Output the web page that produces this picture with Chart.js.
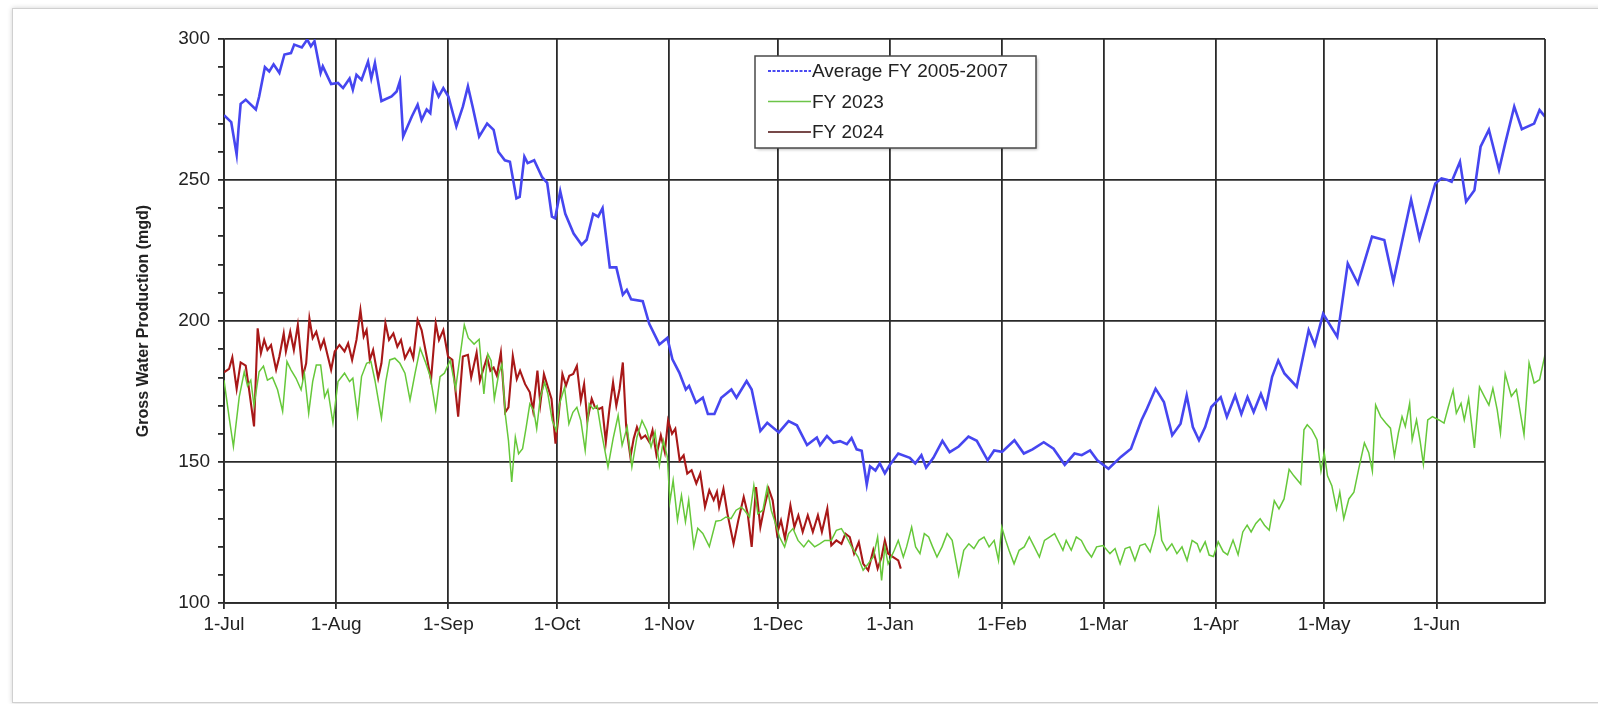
<!DOCTYPE html>
<html>
<head>
<meta charset="utf-8">
<script src="https://cdn.jsdelivr.net/npm/chart.js@4"></script>
<style>
  html, body { margin: 0; padding: 0; background: #ffffff; width: 1598px; height: 704px; overflow: hidden; }
  #frame { position: absolute; left: 12px; top: 8px; width: 1600px; height: 693px; border: 1px solid #d0d0d0; box-shadow: 0 0 5px rgba(0,0,0,0.18); background: #fff; }
  #wrap { position: absolute; left: 0; top: 0; width: 1598px; height: 704px; }
</style>
</head>
<body>
<div id="frame"></div>
<div id="wrap"><canvas id="c" width="1598" height="704"></canvas></div>
<script>
// ---- Data (day index from 1-Jul, value in mgd) ----
const monthStarts = [0, 31, 62, 92, 123, 153, 184, 215, 243, 274, 304, 335];
const monthLabels = ['1-Jul','1-Aug','1-Sep','1-Oct','1-Nov','1-Dec','1-Jan','1-Feb','1-Mar','1-Apr','1-May','1-Jun'];
const seriesNames = ['Average FY 2005-2007', 'FY 2023', 'FY 2024'];

const avgDays = [0,2,3.5,4,4.6,6,8.8,9.7,11.3,12.5,13.7,15.3,16.7,18.5,19.4,21.5,23,24,25,26.7,27.3,29.6,31.5,32.9,34.7,35.6,36.6,38,39.8,40.7,41.7,43.5,46.3,47.7,48.6,49.5,51.9,53.5,54.6,56,57,57.9,59.3,60.6,62,64.2,66,67.4,68.7,70.5,72.7,74.5,75.8,77.6,79,80.8,81.7,83,83.9,85.7,87.9,89.3,90.6,91.5,92.9,94.3,96.6,98.8,100.2,102,103.4,104.6,106.6,108.4,110.2,111.3,112.5,115.7,117.5,120.3,122.5,123.9,125.8,127.6,128.5,130.4,132.3,133.7,135.5,137.4,140.2,141.6,144.4,145.8,148.2,150.1,153.3,156,158.3,161.1,163.8,164.7,166.6,168.4,170.2,172.1,173.4,174.8,176.2,177.6,178.5,180,181.2,182.6,184,186.3,189.5,191,192.7,194,196,198.5,200.5,203,205.7,208,211,212.8,215,218.4,221,223.4,226.5,229.2,232.3,235,237,239.3,241.3,244.4,247.8,250.6,253.5,254.8,257.4,259.7,262,264.3,266,267.7,269.4,271.1,272.8,275.4,277.1,279.4,281.1,282.8,284.5,286.5,287.9,289.6,291.3,293,296.4,299.7,301.4,303.7,305.4,307.6,308.8,310.5,313.3,317.2,320.6,323.1,325.2,328,330.3,334.7,336.4,338.1,339.2,341.5,343.2,345.5,347.2,349.5,352.3,354,356.5,358.6,362,363.5,365];
const avgVals = [273,270.5,259,268,277,278.5,275,279.5,290,288.5,291,288,294.5,295,298,297,299.8,297.4,299.2,288,290.3,284,284.4,282.6,286,282,287.3,285.5,292,286,291.5,278,279.6,281.4,285,265.4,272.5,276.7,271.3,275,273.7,283.8,279.6,282.6,279.6,269,276,283.2,276,265.4,270,267.8,260,257,256.5,243.5,244,258.3,256,257,251,249,237,236.4,246,238,231,227,228.8,238,237,240,219,219,209.3,211,207.7,207,199,191.7,194,186.4,181.7,175.7,177,171,172.8,167,167,172.8,175.7,172.8,178.7,175.7,161,163.9,160.5,164.5,163,156,158.7,156,159.2,156.8,157.4,156.3,158.5,154.5,154,142,148.5,147,149.5,146,149,153,151.5,149.5,152.4,148,151.5,157.5,153.5,155.5,159,157.5,150.6,154.1,153.6,157.7,153,154.5,157,154.7,149,153,152.4,154.1,150.6,147.6,151.8,154.7,164.8,168.3,176,171.3,159.5,163.6,173.6,162.4,157.7,162.4,169.5,173,166,173.6,167,173,167.7,174.2,169.5,180.2,186,181.4,176.7,196.8,191.5,202.6,199,194.4,205,220.4,213.3,229.9,228.7,214,226.4,243,229.3,248.8,250.6,250,249.4,256.5,242.3,246.4,261.8,267.8,253.6,263,276,268,270,274.8,272.5];

const fy23Days = [0,1.4,2.6,4.2,5.6,6.5,7.4,8.3,9.7,10.9,12,13.4,14.8,16.2,17.4,18.5,19.9,21.3,22.2,23.4,24.5,25.5,26.7,27.8,28.7,30.1,31.5,33.3,34.7,35.6,36.9,38,39.4,40.6,41.7,43.5,44.7,45.8,47.2,48.6,50,51.4,52.8,54.2,55.6,57,58.5,59.7,60.9,62.5,64,66.4,67.5,69.1,70.5,71.8,72.9,73.8,74.7,75.9,76.8,77.7,78.6,79.5,80.5,81.4,82.5,83.5,84.5,85.6,86.4,87.4,88.6,89.5,90.7,91.8,92.7,94.1,95.3,96.4,97.5,98.6,99.8,100.9,102,103.1,104.2,106.1,107.5,108.9,110,111.4,112.7,114.1,115.5,116.8,118,119.1,120.3,121.4,122.5,123.2,124.1,125.3,126.4,127.5,128.4,129.8,130.9,132.3,134.1,135.9,137.3,138.7,140.1,141.5,142.9,143.8,145.2,146.4,147.5,148.9,150.1,151.2,152.1,153.5,154.9,156,157.2,158.6,160.2,161.5,163.2,164.6,166,167.8,169.2,170.6,172,173.4,175.2,176.6,178,179.4,180.6,181.7,182.6,183.5,185.2,186.3,187.7,188.6,190,191.1,192.3,193.5,194.7,195.8,197,198.4,199.8,201.2,203,204.4,205.8,207.2,208.6,210,211.4,212.8,214,214.9,216,216.9,218.3,219.7,221.1,222.5,223.9,225.3,226.7,228.1,229.5,230.9,231.8,232.7,234.1,235.5,236.9,238.3,239.7,241.1,242.9,244.8,246.2,247.6,249,250.3,251.7,253.1,254.5,255.9,257.3,258.2,259.1,260.5,261.9,263.3,264.7,266.1,267.5,268.9,269.7,271.1,272.2,273.4,274.7,276.1,277.3,278.8,280.2,281.5,282.7,283.8,285.1,286.3,287.5,288.8,290.2,291.5,292.9,294.3,295.6,297.5,298.4,299.3,300.6,302,303.1,304,304.9,306.1,307.4,308.3,309.4,310.8,312.2,313.5,315.1,316.3,317.3,318.2,319.6,321,322.3,323.4,324.5,325.5,326.4,327.6,328.3,329.5,330.5,331.4,332.6,333.9,335.7,337.1,338.3,339.6,340.5,341.8,342.7,343.9,345.5,346.9,348.3,349.5,350.6,351.8,352.7,354,355.7,357.1,359.2,360.6,362,363.5,365];
const fy23Vals = [179,166,155.5,173,182,177,179,170,182,184,179,180,175.6,168,185.6,182.7,179.7,175.6,181.5,167.3,178.5,184.4,184.4,173,175.6,163.8,178.5,181.5,178.5,179.7,166.6,180.3,185,185.6,179,165.6,178.5,186.2,186.8,185,181.5,172,181.5,190.3,185.6,180.3,168.5,180.3,181.5,186,176,198.6,194,191.8,193.5,174.1,188.3,185.9,172.4,181.2,184.7,167.1,157.6,142.9,158.8,152.9,154.7,162.4,170.6,168.2,161.8,172.9,178.2,174.1,164.7,161.2,170.6,176.5,163.5,167.6,169.4,164.7,154.1,170.6,168.8,170,161.2,148.2,158.2,166.5,155.9,162.4,148.2,158.8,164.7,161.2,155.3,160.6,148.8,157.6,151.8,135.9,143.5,129.4,138.2,128.8,136.5,120,126.5,124.7,120,129,129.3,130.5,129.9,132.9,134,132.9,130.5,141.7,131.7,132.9,141.1,132.9,129.3,123.4,119.9,124.6,126.4,122.2,119.9,122.2,119.9,121,122.2,122.2,125.8,126.4,123.4,119.9,116.3,111.6,113.9,116.3,123.4,108,119.9,113.9,118.7,122.2,116.3,119.9,126.9,119.9,117.5,124.6,123.4,119.9,116.3,119.9,124.6,122.2,109.8,118.7,121,119.3,122.2,123.4,119.9,122.2,115.1,126.9,122.2,118.7,113.9,118.7,119.9,123.4,119.9,116.3,122.2,123.4,124.6,121,118.7,122.2,118.7,123.4,122.2,118.7,116.3,119.9,120.4,117.5,119.3,113.9,119.3,119.9,115.1,120.4,121,118.1,124.6,132.9,122.2,118.7,121,117.5,119.9,115.1,122.2,121,118.2,121.7,117,116.5,121.7,118.2,117.1,122.3,117.1,125.2,127.6,125.2,128.2,129.9,127.6,125.8,136.3,133.4,136.9,147.4,145.1,142.2,161.4,163.2,161.4,157.9,146.8,153.3,145.1,141.6,133.4,139.3,129.9,136.9,139.3,147.4,156.8,153.3,146.8,170.2,166.1,163.8,162,152.1,160.3,166.1,162.6,170.8,157.9,164.9,157.4,149.2,164.9,166.1,164.9,163.8,169.6,175.5,167.3,170.8,164.9,172.5,155,176.6,173.1,170.2,176.1,168.5,160.3,181.3,173.3,175.7,159.7,185.1,178,179.2,188];

const fy24Days = [0,1.4,2.3,3.5,4.6,6,6.9,8.3,9.3,10.2,11.1,12,13,14.4,15.3,16.5,17.1,18.3,19.3,20.4,21.8,22.7,23.6,24.5,25.5,26.7,27.6,28.7,29.6,30.6,31.9,33.3,34.3,35.4,36.6,37.7,38.6,39.4,40.3,41.2,42.6,43.5,44.6,45.6,46.8,47.9,48.9,50,51.4,52.3,53.5,54.6,56,57.2,58.5,59.4,60.6,61.9,63.1,64.7,66,67.4,68.3,69.8,70.7,71.8,72.7,73.6,74.5,75.4,76.5,77.7,78.6,79.8,80.9,81.8,83.2,84.5,85.4,86.6,87.4,88.4,89.5,90.5,91.6,92.5,93.5,94.5,95.4,96.5,97.5,98.6,99.5,100.4,101.6,102.5,103.6,104.5,105.5,106.5,107.5,108.4,109.3,110.2,111.1,112.3,113.2,114.1,115.3,116.4,117.5,118.4,119.5,120.7,121.8,122.7,123.8,124.7,125.9,127,128,129.2,130.5,131.6,132.9,134.1,135.3,136.2,136.8,138,139.1,140.8,142.1,143.6,144.7,145.8,147,148.2,149.3,150.5,151.6,152.8,153.9,155,156.5,157.6,158.7,159.9,161.3,162.7,164.1,165.2,166.7,167.8,169.2,170.6,171.7,172.9,174.1,175.4,176.6,178,179.4,180.6,181.7,182.6,183.5,184.9,186.3,187];
const fy24Vals = [181.8,183,187.1,175.9,185.3,184.2,175.9,162.6,197.4,188.6,193.3,189.7,191.5,182.7,187.4,195.6,189.2,196.2,189.7,198.6,180.3,185,200.9,193.9,196.2,190.3,193.3,187.4,182.7,189.2,191.5,189.2,192.1,186.2,193.3,203.9,194.5,196.8,186.2,189.7,179.7,185,199.2,193.3,195.6,190.9,193.3,186.8,190.3,186.8,200.4,196.8,187.4,179.1,199.2,193.3,196.8,187.4,186.2,166.1,187.4,188,180,188.8,178.8,183.5,187.1,182.4,183.5,180.6,188.8,167.6,169.4,187.6,179.4,182.4,177.6,174.7,168.2,182.4,170.6,181.2,176.5,172.4,156.5,167.1,181.2,177.1,180.6,181.2,184.1,171.8,177.6,164.7,172.4,169.4,168.8,169.4,157.1,168.8,178.2,170,175.9,185.3,163,151.8,158.3,162.4,158.3,159.4,157.1,161.2,152.4,159.4,153.5,164.7,160,161.8,150.6,152.4,145.9,147.1,142.4,145.9,134.1,140,136.5,139.4,134,140.5,131.7,121,129.3,137.6,131.7,119.9,141.1,126.9,134,140.5,136.4,124.6,129.3,122.8,134.6,126.9,131.1,125.2,131.1,125.2,131.1,125.2,133.5,120.4,122.2,121,124.6,123.4,117.5,121.6,114,111.6,118.7,112.2,116.3,122.2,117.5,116.3,115.1,112.2];

const yMin = 100, yMax = 300, yMinorStep = 10, yMajorStep = 50, dayMax = 365;

const toPts = (d, v) => d.map((x, i) => ({ x: x, y: v[i] }));
const tickFont = { family: '"Liberation Sans", Arial, sans-serif', size: 19 };

const legendPlugin = {
  id: 'boxLegend',
  afterDraw(chart) {
    const ctx = chart.ctx;
    const ca = chart.chartArea;
    const bx = ca.left + 531;
    const by = ca.top + 17;
    const bw = 281, bh = 92;
    ctx.save();
    ctx.shadowColor = 'rgba(0,0,0,0.3)';
    ctx.shadowBlur = 3; ctx.shadowOffsetX = 1.5; ctx.shadowOffsetY = 1.5;
    ctx.fillStyle = '#ffffff';
    ctx.fillRect(bx, by, bw, bh);
    ctx.shadowColor = 'transparent';
    ctx.strokeStyle = '#4a4a4a';
    ctx.lineWidth = 1.5;
    ctx.strokeRect(bx, by, bw, bh);
    ctx.font = '19px "Liberation Sans", Arial, sans-serif';
    ctx.textBaseline = 'middle';
    const legendColors = ['#4a4af2', '#6cc448', '#4a0c0c'];
    chart.data.datasets.forEach((ds, i) => {
      const y = by + 15 + i * 30.5;
      ctx.strokeStyle = legendColors[i];
      ctx.lineWidth = i === 0 ? 2.2 : 1.6;
      if (i === 0) ctx.setLineDash([3, 1.5]); else ctx.setLineDash([]);
      ctx.beginPath(); ctx.moveTo(bx + 13, y); ctx.lineTo(bx + 56, y); ctx.stroke();
      ctx.setLineDash([]);
      ctx.fillStyle = '#222222';
      ctx.fillText(ds.label, bx + 57, y + 1);
    });
    ctx.restore();
  }
};

new Chart(document.getElementById('c'), {
  type: 'line',
  data: {
    datasets: [
      { label: seriesNames[0], data: toPts(avgDays, avgVals), borderColor: '#4646f0', borderWidth: 2.6, pointRadius: 0, tension: 0 },
      { label: seriesNames[1], data: toPts(fy23Days, fy23Vals), borderColor: '#66c83a', borderWidth: 1.5, pointRadius: 0, tension: 0 },
      { label: seriesNames[2], data: toPts(fy24Days, fy24Vals), borderColor: '#a81818', borderWidth: 2.1, pointRadius: 0, tension: 0 }
    ]
  },
  options: {
    responsive: false,
    animation: false,
    devicePixelRatio: 1,
    layout: { padding: { left: 0, top: 39, right: 53, bottom: 0 } },
    plugins: { legend: { display: false }, tooltip: { enabled: false } },
    scales: {
      x: {
        type: 'linear', min: 0, max: dayMax,
        afterBuildTicks(scale) { scale.ticks = monthStarts.map(v => ({ value: v })); },
        afterFit(scale) { scale.height = 101; },
        ticks: {
          autoSkip: false, maxRotation: 0, color: '#222', font: tickFont, padding: 4,
          callback(v) { const i = monthStarts.indexOf(v); return i >= 0 ? monthLabels[i] : ''; }
        },
        grid: { color: '#2a2a2a', lineWidth: 1.8, tickLength: 6, tickColor: '#2a2a2a' },
        border: { display: true, color: '#2a2a2a', width: 1.8 }
      },
      y: {
        type: 'linear', min: yMin, max: yMax,
        afterFit(scale) { scale.width = 224; },
        ticks: {
          stepSize: yMinorStep, color: '#222', padding: 8, font: tickFont,
          callback(v) { return v % yMajorStep === 0 ? String(v) : ''; }
        },
        grid: {
          tickLength: 6,
          color(ctx) { return ctx.tick && ctx.tick.value % yMajorStep === 0 ? '#2a2a2a' : 'rgba(0,0,0,0)'; },
          tickColor: '#2a2a2a',
          lineWidth: 1.8
        },
        border: { display: true, color: '#2a2a2a', width: 1.8 },
        title: {
          display: true, text: 'Gross Water Production (mgd)', color: '#222',
          font: { family: '"Liberation Sans", Arial, sans-serif', size: 16, weight: 'bold' },
          padding: { top: 134, bottom: 0 }
        }
      }
    }
  },
  plugins: [legendPlugin, {
    id: 'rightBorder',
    afterDatasetsDraw(chart) {
      const { ctx, chartArea: a } = chart;
      ctx.save(); ctx.strokeStyle = '#2a2a2a'; ctx.lineWidth = 1.8;
      ctx.beginPath(); ctx.moveTo(a.right, a.top); ctx.lineTo(a.right, a.bottom); ctx.stroke();
      ctx.restore();
    }
  }]
});
</script>
</body>
</html>
